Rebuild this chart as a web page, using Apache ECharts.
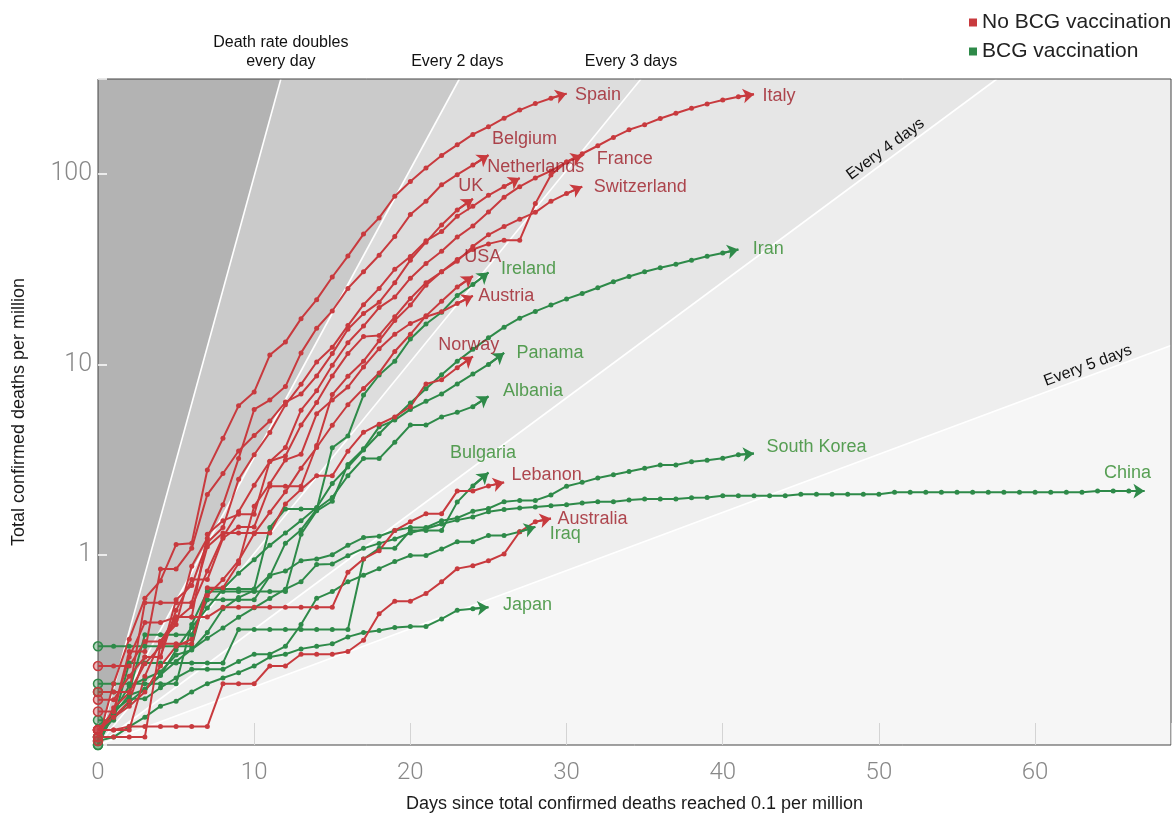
<!DOCTYPE html>
<html>
<head>
<meta charset="utf-8">
<script src="https://cdn.jsdelivr.net/npm/echarts@6/dist/echarts.min.js"></script>
<style>
  html, body { margin: 0; padding: 0; background: #fff; }
  #chart { width: 1174px; height: 816px; }
</style>
</head>
<body>
<div id="chart"></div>
<script>
// ---- axis ranges and tick labels ----
const X_MIN = 0, X_MAX = 68.7;
const Y_MIN = 0.1, Y_MAX = Math.pow(10, 2.5);
const xTickLabels = [0, 10, 20, 30, 40, 50, 60];
const yTickLabels = [1, 10, 100];

// ---- groups ----
const GROUP_NO = 'No BCG vaccination';
const GROUP_YES = 'BCG vaccination';
const noBcgCountries = ['Spain', 'Italy', 'Belgium', 'Netherlands', 'France', 'UK', 'Switzerland',
  'USA', 'Austria', 'Norway', 'Lebanon', 'Australia'];
const bcgCountries = ['Ireland', 'Iran', 'Panama', 'Albania', 'Bulgaria', 'South Korea', 'China',
  'Iraq', 'Japan'];

// ---- total confirmed deaths per million, one value per day since 0.1 per million ----
const spain = [0.105, 0.21, 0.36, 0.59, 0.73, 1.13, 1.15, 2.79, 4.09, 6.06, 7.17, 11.2, 13.1, 17.4, 21.9,
  28.8, 37.1, 48.4, 58.9, 76.5, 91.5, 107.7, 125.4, 142.6, 161.8, 177.4, 196.8, 217, 234.8, 250.5, 265];
const italy = [0.11, 0.157, 0.188, 0.267, 0.33, 0.455, 0.534, 0.82, 1.24, 1.68, 2.32, 3.09, 3.66, 5.75, 7.27,
  9.9, 13.0, 15.9, 19.9, 22.6, 28.4, 33.9, 39.3, 46.7, 53.4, 63.3, 75.7, 85.9, 95.4, 104, 116, 128, 141,
  156, 171, 182, 196, 209, 222, 234, 245, 255, 263];
const belgium = [0.26, 0.26, 0.26, 0.35, 0.35, 0.43, 0.87, 1.22, 1.83, 3.2, 5.8, 6.5, 7.65, 11.5, 15.5,
  19.1, 25.1, 30.7, 37.5, 47, 61.3, 72, 87.9, 99.4, 111.6, 125.8];
const netherlands = [0.173, 0.173, 0.23, 0.29, 0.29, 0.58, 0.69, 1.16, 1.39, 2.49, 3.35, 4.39, 6.13, 7.86,
  10.3, 12.3, 16.0, 20.6, 25.1, 31.6, 36.9, 44.6, 49.9, 60.1, 67.8, 77.4, 86.0, 95.4];
const france = [0.12, 0.14, 0.17, 0.29, 0.29, 0.51, 0.74, 0.74, 1.22, 1.40, 1.40, 2.29, 2.29, 2.29, 3.75,
  6.94, 8.66, 10.4, 13.3, 17.0, 20.5, 26.1, 30.7, 35.6, 40.2, 43, 45, 45, 70, 99, 116, 125];
const uk = [0.12, 0.15, 0.31, 0.31, 0.84, 0.84, 1.08, 2.07, 2.67, 3.51, 4.23, 5.04, 6.34, 6.99, 8.70,
  11.4, 15.3, 18.5, 21.2, 26.9, 35.3, 43.9, 54.1, 64.8, 74.1];
const switzerland = [0.12, 0.12, 0.12, 0.23, 0.35, 0.47, 0.47, 1.28, 1.51, 1.63, 1.63, 3.1, 3.3, 4.8, 6.3,
  8.7, 11.4, 14.0, 14.2, 17.8, 22.2, 26.9, 30.7, 34.9, 41.7, 48, 53, 58, 63, 72, 79, 86];
const usa = [0.12, 0.14, 0.16, 0.19, 0.26, 0.33, 0.36, 0.61, 0.74, 0.93, 1.29, 1.67, 2.14, 2.85, 3.66,
  4.79, 6.14, 7.48, 9.02, 11.7, 14.4, 18.0, 21.5, 25.5, 29.1];
const austria = [0.11, 0.11, 0.11, 0.11, 0.34, 0.34, 0.34, 0.67, 0.67, 0.90, 1.80, 2.36, 3.15, 3.37, 5.5,
  6.5, 7.6, 9.7, 12.1, 14.4, 16.4, 17.8, 18.9, 20.9, 22.9];
const norway = [0.19, 0.19, 0.19, 0.56, 0.56, 0.56, 0.56, 1.1, 1.3, 1.3, 1.3, 1.3, 1.85, 2.2, 2.6, 2.6,
  3.5, 4.4, 4.85, 5.3, 6.0, 7.9, 8.3, 9.6, 11.0];
const lebanon = [0.15, 0.15, 0.29, 0.44, 0.44, 0.47, 0.47, 0.47, 0.53, 0.53, 0.53, 0.53, 0.53, 0.53, 0.53,
  0.53, 0.81, 0.95, 1.05, 1.34, 1.49, 1.64, 1.64, 2.16, 2.16, 2.3, 2.4];
const australia = [0.12, 0.12, 0.125, 0.125, 0.125, 0.125, 0.125, 0.125, 0.21, 0.21, 0.21, 0.26, 0.26,
  0.30, 0.30, 0.30, 0.31, 0.355, 0.49, 0.57, 0.57, 0.625, 0.72, 0.845, 0.875, 0.93, 1.01, 1.32, 1.49, 1.55];

const ireland = [0.19, 0.19, 0.19, 0.38, 0.38, 0.38, 0.38, 0.58, 0.58, 0.58, 0.58, 0.77, 1.15, 1.35, 1.73,
  3.65, 4.2, 6.9, 8.8, 10.4, 13.6, 16.3, 18.8, 23.0, 26.3, 30.4];
const iran = [0.10, 0.146, 0.183, 0.195, 0.232, 0.317, 0.415, 0.524, 0.66, 0.80, 0.94, 1.12, 1.30, 1.51,
  1.77, 2.37, 2.89, 3.55, 4.32, 5.23, 6.27, 7.45, 8.83, 10.4, 12.0, 13.8, 15.7, 17.5, 19.0, 20.5, 22.1,
  23.6, 25.3, 27.2, 29.0, 30.7, 32.2, 33.6, 35.3, 37.0, 38.5, 40.2];
const panama = [0.21, 0.21, 0.21, 0.21, 0.21, 0.21, 0.43, 0.64, 0.64, 0.64, 0.64, 0.64, 0.64, 1.28, 1.70,
  1.91, 2.98, 3.6, 4.7, 5.1, 5.8, 6.4, 7.0, 7.9, 8.9, 10.0, 11.5];
const albania = [0.33, 0.33, 0.33, 0.33, 0.33, 0.33, 0.33, 0.66, 0.66, 0.66, 0.66, 1.39, 1.74, 1.74, 1.74,
  2.0, 2.6, 3.2, 3.2, 3.9, 4.8, 4.8, 5.3, 5.6, 6.0, 6.8];
const bulgaria = [0.135, 0.135, 0.27, 0.27, 0.27, 0.27, 0.27, 0.27, 0.27, 0.405, 0.405, 0.405, 0.405, 0.405,
  0.405, 0.405, 0.405, 0.95, 1.08, 1.08, 1.34, 1.34, 1.34, 1.89, 2.30, 2.70];
const southKorea = [0.11, 0.149, 0.204, 0.223, 0.242, 0.297, 0.316, 0.39, 0.52, 0.595, 0.65, 0.78, 0.82,
  0.93, 0.95, 1.0, 1.12, 1.23, 1.25, 1.34, 1.39, 1.39, 1.51, 1.56, 1.69, 1.75, 1.90, 1.93, 1.93, 2.06,
  2.29, 2.40, 2.53, 2.63, 2.74, 2.85, 2.96, 2.96, 3.08, 3.14, 3.21, 3.35, 3.40];
const china = [0.11, 0.138, 0.168, 0.197, 0.234, 0.275, 0.318, 0.364, 0.412, 0.469, 0.526, 0.589, 0.659,
  0.722, 0.887, 0.895, 0.988, 1.08, 1.147, 1.21, 1.30, 1.37, 1.45, 1.52, 1.58, 1.68, 1.73, 1.76, 1.78,
  1.81, 1.83, 1.87, 1.90, 1.90, 1.94, 1.96, 1.96, 1.96, 1.99, 2.00, 2.04, 2.04, 2.04, 2.04, 2.04, 2.08,
  2.08, 2.08, 2.08, 2.08, 2.08, 2.13, 2.13, 2.13, 2.13, 2.13, 2.13, 2.13, 2.13, 2.13, 2.13, 2.13, 2.13,
  2.13, 2.16, 2.16, 2.16, 2.16];
const iraq = [0.10, 0.15, 0.175, 0.175, 0.20, 0.225, 0.25, 0.25, 0.25, 0.275, 0.30, 0.30, 0.33, 0.43, 0.59,
  0.64, 0.72, 0.78, 0.845, 0.92, 0.99, 0.99, 1.07, 1.17, 1.17, 1.26, 1.26, 1.32, 1.40];
const japan = [0.105, 0.11, 0.125, 0.14, 0.16, 0.17, 0.19, 0.21, 0.225, 0.24, 0.26, 0.29, 0.30, 0.32, 0.33,
  0.34, 0.37, 0.39, 0.40, 0.415, 0.42, 0.42, 0.46, 0.51, 0.52, 0.53];

const deathsByCountry = {
  'Spain': spain, 'Italy': italy, 'Belgium': belgium, 'Netherlands': netherlands, 'France': france,
  'UK': uk, 'Switzerland': switzerland, 'USA': usa, 'Austria': austria, 'Norway': norway,
  'Lebanon': lebanon, 'Australia': australia,
  'Ireland': ireland, 'Iran': iran, 'Panama': panama, 'Albania': albania, 'Bulgaria': bulgaria,
  'South Korea': southKorea, 'China': china, 'Iraq': iraq, 'Japan': japan
};

// ---- styling ----
const FONT = '"Liberation Sans", Arial, Helvetica, sans-serif';
const RED = '#c83a3e', RED_FADE = 'rgba(200,58,62,0.35)', RED_TEXT = '#9e1b26';
const GREEN = '#2e8a49', GREEN_FADE = 'rgba(46,138,73,0.35)', GREEN_TEXT = '#2f8a2c';

// end-label placement: [dx, dy] from the last point to the text's left edge / middle
const labelOffsets = {
  'Spain': [9, 2], 'Italy': [9, 2], 'Belgium': [4, -16], 'Netherlands': [-32, -11],
  'France': [15, 4], 'UK': [-14, -12], 'Switzerland': [12, 1], 'USA': [-8, -19],
  'Austria': [6, 1], 'Norway': [-34, -11], 'Lebanon': [8, -7], 'Australia': [7, 1],
  'Ireland': [13, -3], 'Iran': [15, 0], 'Panama': [13, 1], 'Albania': [15, -5],
  'Bulgaria': [-38, -19], 'South Korea': [13, -6], 'China': [-40, -18], 'Iraq': [15, 8],
  'Japan': [15, -2]
};

// doubling guides from (0, 0.1): period in days, and where their captions sit
const guides = [
  { period: 1.007, text: 'Death rate doubles\nevery day', place: 'top', dx: 0 },
  { period: 1.99, text: 'Every 2 days', place: 'top', dx: -2 },
  { period: 2.99, text: 'Every 3 days', place: 'top', dx: -10 },
  { period: 4.95, text: 'Every 4 days', place: 'along', at: 50.8 },
  { period: 9.85, text: 'Every 5 days', place: 'along', at: 63.6 }
];
const bandFills = ['#b3b3b3', '#cacaca', '#dddddd', '#e6e6e6', '#eeeeee', '#f6f6f6'];

function guideValue(period, x) { return Y_MIN * Math.pow(2, x / period); }
function guideEnd(period) {
  const xTop = period * Math.log2(Y_MAX / Y_MIN);
  if (xTop <= X_MAX) return { pt: [xTop, Y_MAX], top: true };
  return { pt: [X_MAX, guideValue(period, X_MAX)], top: false };
}

function renderBackground(params, api) {
  const c = p => api.coord(p);
  const kids = [];
  kids.push({
    type: 'polygon',
    shape: { points: [c([X_MIN, Y_MIN]), c([X_MIN, Y_MAX]), c([X_MAX, Y_MAX]), c([X_MAX, Y_MIN])] },
    style: { fill: bandFills[0] }
  });
  guides.forEach((g, i) => {
    const e = guideEnd(g.period);
    const pts = e.top
      ? [[X_MIN, Y_MIN], e.pt, [X_MAX, Y_MAX], [X_MAX, Y_MIN]]
      : [[X_MIN, Y_MIN], e.pt, [X_MAX, Y_MIN]];
    kids.push({ type: 'polygon', shape: { points: pts.map(c) }, style: { fill: bandFills[i + 1] } });
  });
  guides.forEach(g => {
    const e = guideEnd(g.period);
    kids.push({
      type: 'polyline',
      shape: { points: [c([X_MIN, Y_MIN]), c(e.pt)] },
      style: { stroke: '#ffffff', lineWidth: 1.6, fill: null }
    });
  });
  guides.forEach(g => {
    if (g.place === 'top') {
      const p = c(guideEnd(g.period).pt);
      kids.push({
        type: 'text', x: p[0] + g.dx, y: p[1] - 8,
        style: { text: g.text, align: 'center', verticalAlign: 'bottom', fontSize: 16,
          lineHeight: 19, fontFamily: FONT, fill: '#111' }
      });
    } else {
      const a = c([g.at, guideValue(g.period, g.at)]);
      const b = c([g.at + 1, guideValue(g.period, g.at + 1)]);
      const ang = Math.atan2(a[1] - b[1], b[0] - a[0]);
      const gap = 2;
      kids.push({
        type: 'text', x: a[0] - Math.sin(ang) * gap, y: a[1] - Math.cos(ang) * gap, rotation: ang,
        style: { text: g.text, align: 'center', verticalAlign: 'bottom', fontSize: 16,
          fontFamily: FONT, fill: '#111' }
      });
    }
  });
  return { type: 'group', children: kids };
}

function countrySeries(country, group) {
  const red = group === GROUP_NO;
  const color = red ? RED : GREEN;
  const fade = red ? RED_FADE : GREEN_FADE;
  const values = deathsByCountry[country];
  const last = values.length - 1;
  return {
    type: 'line', name: group, id: 'line-' + country,
    data: values.map((v, d) => {
      if (d === 0) {
        return { value: [d, v], symbolSize: 9,
          itemStyle: { color: fade, borderColor: color, borderWidth: 1.5 } };
      }
      if (d === last) return { value: [d, v], symbol: 'none' };
      return [d, v];
    }),
    symbol: 'circle', symbolSize: 5, showSymbol: true,
    lineStyle: { color: color, width: 2 },
    itemStyle: { color: color },
    emphasis: { disabled: true }, silent: true, z: 3
  };
}

function arrowSeries(countries, group) {
  const color = group === GROUP_NO ? RED : GREEN;
  return {
    type: 'lines', coordinateSystem: 'cartesian2d', name: group,
    data: countries.map(cn => {
      const v = deathsByCountry[cn];
      const n = v.length - 1;
      return { coords: [[n - 1, v[n - 1]], [n, v[n]]] };
    }),
    symbol: ['none', 'arrow'], symbolSize: 11,
    lineStyle: { color: color, width: 2, opacity: 1, curveness: 0 },
    silent: true, z: 4
  };
}

function labelSeries(countries, group) {
  const textColor = group === GROUP_NO ? RED_TEXT : GREEN_TEXT;
  return {
    type: 'scatter', name: group,
    data: countries.map(cn => {
      const v = deathsByCountry[cn];
      const n = v.length - 1;
      return { value: [n, v[n]], name: cn, label: { position: labelOffsets[cn] } };
    }),
    symbol: 'circle', symbolSize: 1,
    itemStyle: { color: 'transparent' },
    label: { show: true, formatter: '{b}', color: textColor, fontSize: 18, fontFamily: FONT,
      align: 'left', verticalAlign: 'middle' },
    emphasis: { disabled: true }, silent: true, z: 5
  };
}

const series = [
  { type: 'custom', coordinateSystem: 'cartesian2d', silent: true, z: -1, clip: false,
    data: [[X_MIN, Y_MIN]], renderItem: renderBackground }
];
bcgCountries.forEach(cn => series.push(countrySeries(cn, GROUP_YES)));
noBcgCountries.forEach(cn => series.push(countrySeries(cn, GROUP_NO)));
series.push(arrowSeries(bcgCountries, GROUP_YES));
series.push(arrowSeries(noBcgCountries, GROUP_NO));
series.push(labelSeries(bcgCountries, GROUP_YES));
series.push(labelSeries(noBcgCountries, GROUP_NO));

const chart = echarts.init(document.getElementById('chart'), null, { renderer: 'canvas' });
chart.setOption({
  animation: false,
  backgroundColor: '#ffffff',
  grid: { left: 98, right: 3, top: 79, bottom: 71, show: true, borderColor: '#444', borderWidth: 1,
    backgroundColor: 'transparent', containLabel: false, outerBoundsMode: 'none' },
  legend: {
    data: [
      { name: GROUP_NO, itemStyle: { color: RED } },
      { name: GROUP_YES, itemStyle: { color: GREEN } }
    ],
    orient: 'vertical', left: 964, top: 7, icon: 'rect', itemWidth: 8, itemHeight: 8, itemGap: 8,
    textStyle: { fontSize: 21, fontFamily: FONT, color: '#222' }
  },
  xAxis: {
    type: 'value', min: X_MIN, max: X_MAX, interval: 10,
    name: 'Days since total confirmed deaths reached 0.1 per million',
    nameLocation: 'middle', nameGap: 50,
    nameTextStyle: { fontSize: 18, fontFamily: FONT, color: '#1a1a1a' },
    axisLine: { show: false },
    axisTick: { show: true, inside: true, length: 22, lineStyle: { color: '#d4d4d4', width: 1 } },
    splitLine: { show: false },
    axisLabel: { fontSize: 24, fontFamily: 'Roboto, ' + FONT, fontWeight: 300, color: '#888', margin: 16,
      formatter: v => (xTickLabels.indexOf(v) >= 0 ? String(v) : '') }
  },
  yAxis: {
    type: 'log', logBase: 10, min: Y_MIN, max: Y_MAX,
    name: 'Total confirmed deaths per million',
    nameLocation: 'middle', nameGap: 70,
    nameTextStyle: { fontSize: 18, fontFamily: FONT, color: '#1a1a1a' },
    axisLine: { show: false },
    axisTick: { show: true, inside: true, length: 9, lineStyle: { color: '#ffffff', width: 1.5 } },
    splitLine: { show: false },
    axisLabel: { fontSize: 25, fontFamily: 'Roboto, ' + FONT, fontWeight: 300, color: '#888', margin: 6,
      formatter: v => {
        const r = Math.round(v * 1000) / 1000;
        return yTickLabels.indexOf(r) >= 0 ? String(r) : '';
      } }
  },
  series: series
});
</script>
</body>
</html>
